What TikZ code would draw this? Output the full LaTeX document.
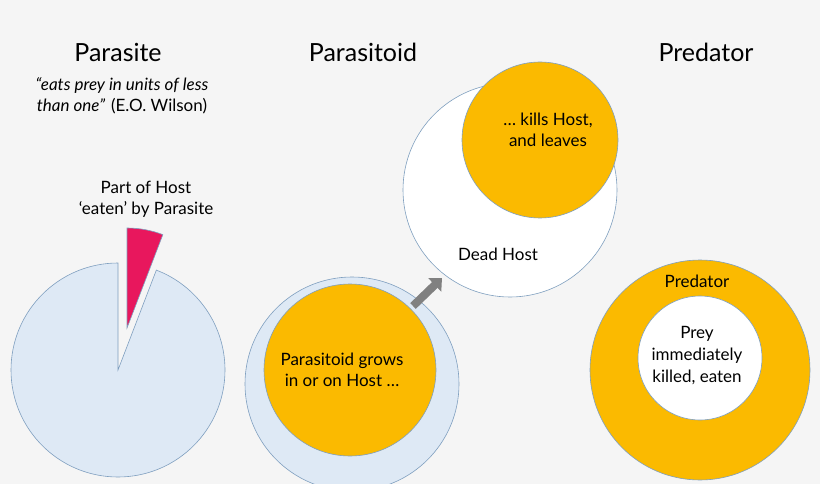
\documentclass[tikz,border=0pt]{standalone}
\usepackage{fontspec}
\setmainfont{Lato}
\usetikzlibrary{arrows.meta}
\definecolor{bg}{HTML}{F5F5F5}
\definecolor{lblue}{HTML}{DEE9F5}
\definecolor{edge}{HTML}{7F9FBF}
\definecolor{orng}{HTML}{FBBA00}
\definecolor{pink}{HTML}{E8175D}
\begin{document}
\begin{tikzpicture}[x=1pt,y=-1pt,
  title/.style={font=\fontsize{25}{28}\selectfont},
  lab/.style={font=\fontsize{17}{21}\selectfont,align=center},
  disc/.style={circle,draw=edge,line width=0.6pt}]
\useasboundingbox[fill=bg] (0,0) rectangle (820,484);
\node[title] (t1) at (118,52) {Parasite};
\node[title] (t2) at (363,52) {Parasitoid};
\node[title] (t3) at (706,52) {Predator};
\node[lab,font=\fontsize{17}{21}\selectfont\itshape] (q) at (122,96) {“eats prey in units of less\\than one”\hspace{6pt}{\upshape (E.O. Wilson)}};
% parasite pie
\fill[lblue,draw=edge,line width=0.6pt] (118,370) -- ++(-90:107) arc[start angle=-90,end angle=-429,radius=107] -- cycle;
\fill[pink,draw=edge,line width=0.6pt] (127,328) -- ++(-69:100) arc[start angle=-69,end angle=-90,radius=100] -- cycle;
\node[lab] (ph) at (146,199) {Part of Host\\‘eaten’ by Parasite};
% parasitoid
\node[disc,fill=lblue,minimum size=214pt] (host) at (352,384) {};
\node[disc,fill=orng,minimum size=172pt] (pg) at (350,370) {};
\node[lab] at (342,370) {Parasitoid grows\\in or on Host …};
\node[disc,fill=white,minimum size=214pt] (dead) at (510,190) {};
\node[lab] at (498,254) {Dead Host};
\node[disc,fill=orng,minimum size=156pt] (kill) at (540,140) {};
\node[lab] at (548,130) {… kills Host,\\and leaves};
\coordinate (a1) at (413,306);
\coordinate (a2) at (442,278);
\draw[-{Triangle[length=10pt,width=18pt]},line width=8pt,color=gray] (a1) -- (a2);
% predator
\node[disc,fill=orng,minimum size=220pt] (pred) at (700,370) {};
\node[disc,fill=white,minimum size=124pt] (prey) at (700,358) {};
\node[lab] at (697,281) {Predator};
\node[lab,font=\fontsize{17}{22}\selectfont] at (697,356) {Prey\\immediately\\killed, eaten};
\end{tikzpicture}
\end{document}
